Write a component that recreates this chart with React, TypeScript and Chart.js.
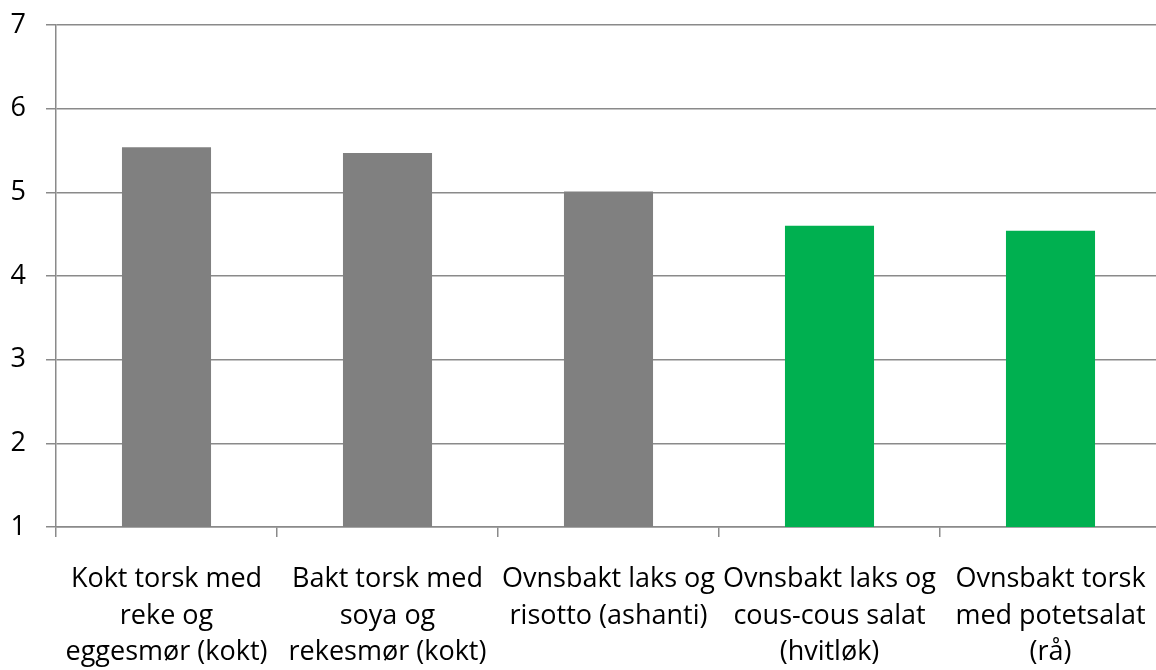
import React, { useEffect, useRef } from "react";
import { Chart, registerables } from "chart.js";

Chart.register(...registerables);

const categories: string[][] = [
  ["Kokt torsk med", "reke og", "eggesmør (kokt)"],
  ["Bakt torsk med", "soya og", "rekesmør (kokt)"],
  ["Ovnsbakt laks og", "risotto (ashanti)"],
  ["Ovnsbakt laks og", "cous-cous salat", "(hvitløk)"],
  ["Ovnsbakt torsk", "med potetsalat", "(rå)"],
];
const values: number[] = [5.54, 5.47, 5.01, 4.6, 4.54];
const barColors: string[] = ["#808080", "#808080", "#808080", "#00B050", "#00B050"];
const yMin = 1;
const yMax = 7;
const yStep = 1;

export default function App() {
  const ref = useRef<HTMLCanvasElement | null>(null);
  useEffect(() => {
    if (!ref.current) return;
    const gridColor = "#8a8a8a";
    const family = "'Open Sans', 'Noto Sans', sans-serif";
    const chart = new Chart(ref.current, {
      type: "bar",
      data: {
        labels: categories,
        datasets: [
          {
            data: values,
            backgroundColor: barColors,
            borderWidth: 0,
            categoryPercentage: 1,
            barPercentage: 0.403,
          },
        ],
      },
      options: {
        animation: false,
        responsive: false,
        maintainAspectRatio: false,
        layout: { padding: { top: 25, right: 9, left: 0, bottom: 0 } },
        plugins: { legend: { display: false }, tooltip: { enabled: false } },
        scales: {
          x: {
            type: "category",
            offset: true,
            grid: {
              display: true,
              offset: true,
              drawOnChartArea: false,
              drawTicks: true,
              tickLength: 10,
              color: gridColor,
              lineWidth: 1.5,
            },
            border: { display: true, color: gridColor, width: 1.5 },
            ticks: {
              color: "#000",
              font: { family, size: 27, lineHeight: 1.36 },
              padding: 24,
              maxRotation: 0,
              minRotation: 0,
              autoSkip: false,
            },
            afterFit: (s: any) => {
              s.height = 143;
              s.paddingLeft = 0;
              s.paddingRight = 0;
            },
          },
          y: {
            type: "linear",
            min: yMin,
            max: yMax,
            grid: {
              color: gridColor,
              lineWidth: 1.5,
              tickLength: 10,
              drawTicks: true,
            },
            border: { display: true, color: gridColor, width: 1.5 },
            ticks: {
              stepSize: yStep,
              color: "#000",
              font: { family, size: 27 },
              padding: 20,
            },
            afterFit: (s: any) => {
              s.width = 56;
              s.paddingTop = 0;
              s.paddingBottom = 0;
            },
          },
        },
      },
    });
    return () => chart.destroy();
  }, []);
  return (
    <div style={{ position: "fixed", left: 0, top: 0, width: 1156, height: 670, overflow: "hidden", background: "#fff" }}>
      <canvas ref={ref} width={1170} height={670} style={{ width: 1170, height: 670, display: "block" }} />
    </div>
  );
}
